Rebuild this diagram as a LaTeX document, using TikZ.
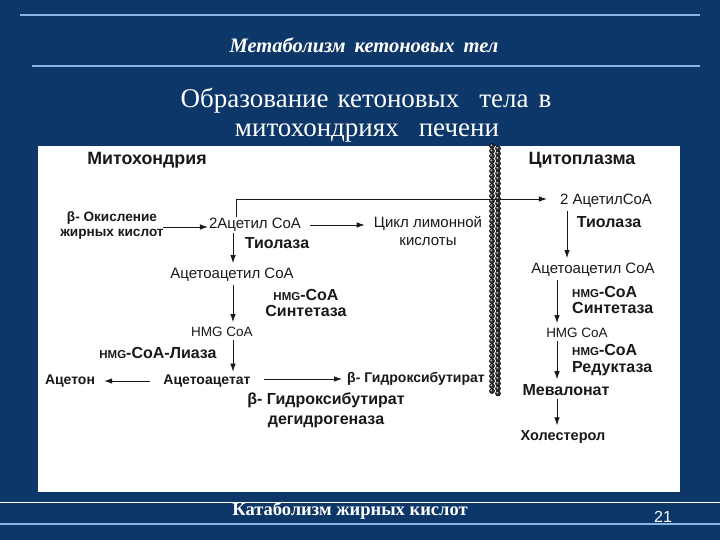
\documentclass[tikz,border=0pt]{standalone}
\usepackage{fontspec}
\setmainfont{Liberation Serif}
\setsansfont{Liberation Sans}
\usetikzlibrary{positioning, arrows.meta}
\definecolor{slidebg}{RGB}{13,55,104}
\definecolor{rulebl}{RGB}{140,180,225}
\definecolor{ink}{RGB}{25,25,25}
\newcommand{\hmg}{{\fontsize{11.5}{11.5}\selectfont HMG}}

\begin{document}
\begin{tikzpicture}[x=1pt, y=-1pt,
    lbl/.style={font=\sffamily\fontsize{15}{15}\selectfont, text=ink, inner sep=1pt, align=center},
    blbl/.style={font=\sffamily\bfseries\fontsize{16}{15}\selectfont, text=ink, inner sep=1pt, align=center},
    sblbl/.style={font=\sffamily\bfseries\fontsize{14}{15}\selectfont, text=ink, inner sep=1pt, align=center},
    enzy/.style={font=\sffamily\bfseries\fontsize{16}{16.5}\selectfont, text=ink, inner sep=0pt},
    arr/.style={line width=0.8pt, ink, shorten >=4pt, -{Latex[length=8pt, width=5.5pt]}}]
                % slide
                \fill[slidebg] (0,0) rectangle (720,540);
                \useasboundingbox (0,0) rectangle (720,540);
                \draw[rulebl, line width=1.2pt] (20,15) -- (700,15);
                \draw[rulebl, line width=1.2pt] (32,66) -- (700,66);
                \node[text=white, anchor=base, font=\bfseries\itshape\fontsize{20.5}{20}\selectfont] (sec) at (364,53) {Метаболизм\hspace{9pt}кетоновых\hspace{9pt}тел};
                \node[text=white, anchor=base, font=\fontsize{27}{30}\selectfont] (ttl) at (366,108) {Образование\hspace{9pt}кетоновых\hspace{20pt}тела\hspace{10pt}в};
                \node[text=white, anchor=base, font=\fontsize{27}{30}\selectfont] (ttlb) at (367,137) {митохондриях\hspace{20pt}печени};
                \fill[white] (38,146) rectangle (680,492);
                % membrane
                \foreach \k in {0,...,49} {
                    \fill[black!80, draw=black, line width=0.5pt] (492,146+5*\k) circle (2.5);
                    \fill[black!80, draw=black, line width=0.5pt] (498,148.5+5*\k) circle (2.5);
                    \fill[white!85!black] (491.2,145.2+5*\k) circle (0.9);
                    \fill[white!85!black] (497.2,147.7+5*\k) circle (0.9);
                }
                % mitochondria
                \node[blbl, font=\sffamily\bfseries\fontsize{17.8}{18}\selectfont] (mito) at (147,160) {Митохондрия};
                \node[sblbl, font=\sffamily\bfseries\fontsize{13.6}{15}\selectfont] (box) at (112,225) {β- Окисление\\жирных кислот};
                \node[lbl] (acm) at (255,225) {2Ацетил CoA};
                \node[blbl] (tiom) at (277,243) {Тиолаза};
                \node[lbl] (aacm) at (232,275) {Ацетоацетил CoA};
                \node[enzy, align=center] (synm) at (306,303) {\hmg-CoA\\Синтетаза};
                \node[lbl, font=\sffamily\fontsize{13.5}{15}\selectfont] (hmgm) at (222,332) {HMG CoA};
                \node[blbl] (lyase) at (158,353) {\hmg-CoA-Лиаза};
                \node[sblbl] (aca) at (207,381) {Ацетоацетат};
                \node[sblbl] (acet) at (70,381) {Ацетон};
                \node[sblbl] (hbut) at (416,379) {β- Гидроксибутират};
                \node[blbl, font=\sffamily\bfseries\fontsize{16}{20}\selectfont] (hbdh) at (326,410) {β- Гидроксибутират\\дегидрогеназа};
                \node[lbl, font=\sffamily\fontsize{15}{18}\selectfont] (tca) at (428,231) {Цикл лимонной\\кислоты};
                % cytoplasm
                \node[blbl, font=\sffamily\bfseries\fontsize{17.8}{18}\selectfont] (cyto) at (582,160) {Цитоплазма};
                \node[lbl] (acc) at (606,201) {2 АцетилCoA};
                \node[blbl] (tioc) at (609,222) {Тиолаза};
                \node[lbl] (aacc) at (593,270) {Ацетоацетил CoA};
                \node[enzy, anchor=west, align=left] (sync) at (572,300) {\hmg-CoA\\Синтетаза};
                \node[lbl, font=\sffamily\fontsize{13.5}{15}\selectfont] (hmgc) at (577,333) {HMG CoA};
                \node[enzy, anchor=west, align=left] (red) at (572,360) {\hmg-CoA\\Редуктаза};
                \node[blbl] (mev) at (566,390) {Мевалонат};
                \node[blbl, font=\sffamily\bfseries\fontsize{14.5}{15}\selectfont] (chol) at (563,437) {Холестерол};
                % connectors
                \coordinate (mx) at (233,0);
                \coordinate (cx) at (557,0);
                \coordinate (tap) at (236,199);
                \draw[arr, shorten <=-2pt, shorten >=0pt] (box.east |- 0,227) -- (acm.west |- 0,227);
                \draw[arr, shorten <=8pt, shorten >=8pt] (acm.east) -- (tca.west |- acm);
                \draw[line width=0.8pt, ink] (acm.north -| tap) -- (tap);
                \draw[arr, shorten >=12pt] (tap) -- (acc.west |- tap);
                \draw[arr] (acm.south -| mx) -- (aacm.north -| mx);
                \draw[arr, shorten <=2pt] (aacm.south -| mx) -- (hmgm.north -| mx);
                \draw[arr, shorten <=2pt, shorten >=2pt] (hmgm.south -| mx) -- (aca.north -| mx);
                \draw[arr, shorten <=12pt, shorten >=8pt] (aca.west) -- (acet.east);
                \draw[arr, shorten <=12pt, shorten >=4pt] (aca.east |- hbut) -- (hbut.west);
                \draw[arr, shorten <=2pt] (acc.south -| 567,0) -- (aacc.north -| 567,0);
                \draw[arr, shorten <=2pt] (aacc.south -| cx) -- (hmgc.north -| cx);
                \draw[arr, shorten <=2pt] (hmgc.south -| cx) -- (mev.north -| cx);
                \draw[arr, shorten <=2pt] (mev.south -| cx) -- (chol.north -| cx);
                % footer
                \draw[white, line width=1pt] (0,502) -- (720,502);
                \draw[rulebl, line width=1.2pt] (0,524) -- (720,524);
                \node[text=white, anchor=base, font=\bfseries\fontsize{18.5}{18}\selectfont] (foot) at (350,515) {Катаболизм жирных кислот};
                \node[text=white, font=\sffamily\fontsize{16}{15}\selectfont] (pg) at (663,517) {21};
            \end{tikzpicture}
\end{document}
